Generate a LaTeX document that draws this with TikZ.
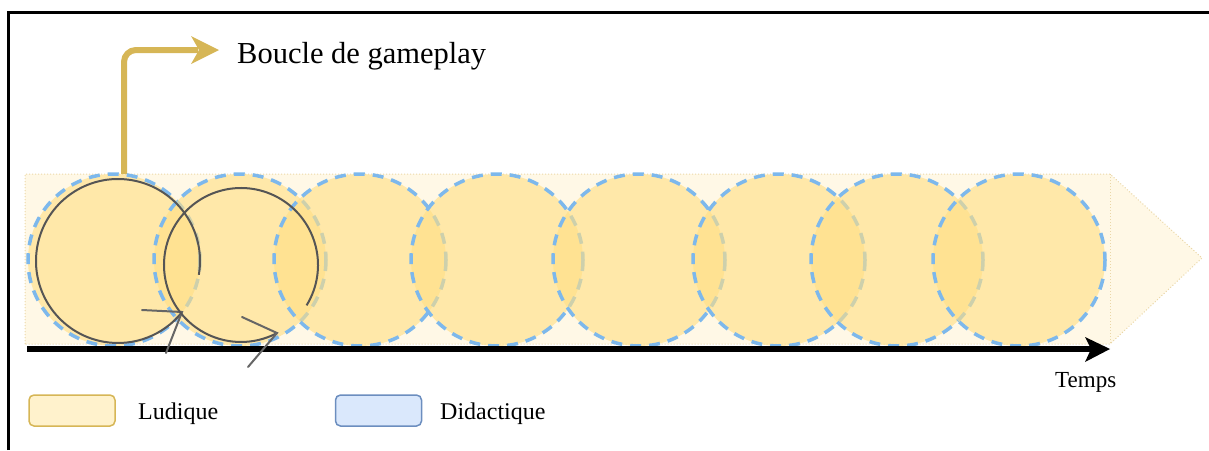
\documentclass[tikz,border=0pt]{standalone}
\usepackage{fontspec}
\setmainfont{Liberation Serif}
\definecolor{bandfill}{HTML}{FFF8E6}
\definecolor{bandline}{HTML}{EAD7A8}
\definecolor{circfill}{HTML}{FFDF85}
\definecolor{dashblue}{HTML}{7DB8EC}
\definecolor{goldline}{HTML}{D6B656}
\definecolor{loopgray}{HTML}{555555}
\definecolor{barbgray}{HTML}{666666}
\definecolor{ludfill}{HTML}{FFF2CC}
\definecolor{didfill}{HTML}{DAE8FC}
\definecolor{didline}{HTML}{6C8EBF}
\tikzset{
  phase/.style={fill=circfill, fill opacity=0.62, draw=dashblue, draw opacity=1, line width=3.5pt, dash pattern=on 11pt off 8pt},
  loopline/.style={draw=loopgray, line width=2pt},
  barb/.style={draw=barbgray, line width=2pt, line cap=round},
  legendbox/.style={rounded corners=5pt, line width=1.5pt, minimum width=86pt, minimum height=31pt, inner sep=0pt},
  lbl/.style={font=\fontsize{24}{28}\selectfont, inner sep=0pt}
}
\begin{document}
\begin{tikzpicture}[x=1pt,y=-1pt]
\useasboundingbox (0,0) rectangle (1209,450);
% frame
\draw[line width=3pt] (8.5,450) -- (8.5,12) -- (1209,12);
% band
\fill[bandfill] (25,174) -- (1110,174) -- (1202,258) -- (1110,344) -- (25,344) -- cycle;
\draw[bandline, dotted, line width=1pt] (25,344) -- (25,174) -- (1110,174) -- (1202,258) -- (1110,344) -- (25,344);
\draw[bandline, dotted, line width=1pt] (1110,174) -- (1110,344);
% gold arrow
\coordinate (gstart) at (124,174);
\coordinate (gcorner) at (124,50);
\coordinate (gend) at (198,50);
\draw[goldline, line width=6pt, rounded corners=12pt] (gstart) -- (gcorner) -- (gend);
\fill[goldline] (219,50) -- (191,36) -- (199,50) -- (191,64) -- cycle;
\node[anchor=base west, inner sep=0pt, font=\fontsize{30.5}{36}\selectfont] (title) at (237,63) {Boucle de gameplay};
% circles
\foreach \cx/\nm in {114/c1,240/c2,360/c3,497/c4,639/c5,779/c6,897/c7,1019/c8}{
  \path[phase] (\cx,260) circle[radius=86];
}
% timeline
\coordinate (tl0) at (27,349);
\coordinate (tl1) at (1092,349);
\draw[line width=6pt] (tl0) -- (tl1);
\fill (1110,349) -- (1085,337) -- (1091,349) -- (1085,362) -- cycle;
\node[lbl, anchor=base west, font=\fontsize{23}{27}\selectfont] (temps) at (1055,387) {Temps};
% gameplay loops
\draw[loopline] (118,261) ++(9.7:82) arc[start angle=9.7, end angle=-321.4, radius=82];
\draw[barb] (142,310) -- (182,312) -- (166,353);
\draw[loopline] (241,265) ++(31.6:77) arc[start angle=31.6, end angle=-297.9, radius=77];
\draw[barb] (242,317) -- (277,333) -- (248,367);
% legend
\node[legendbox, fill=ludfill, draw=goldline] (lud) at (72,410.5) {};
\node[lbl, anchor=base west] (ludt) at (138,419) {Ludique};
\node[legendbox, fill=didfill, draw=didline] (did) at (378.5,410.5) {};
\node[lbl, anchor=base west] (didt) at (440,419) {Didactique};
\end{tikzpicture}
\end{document}
